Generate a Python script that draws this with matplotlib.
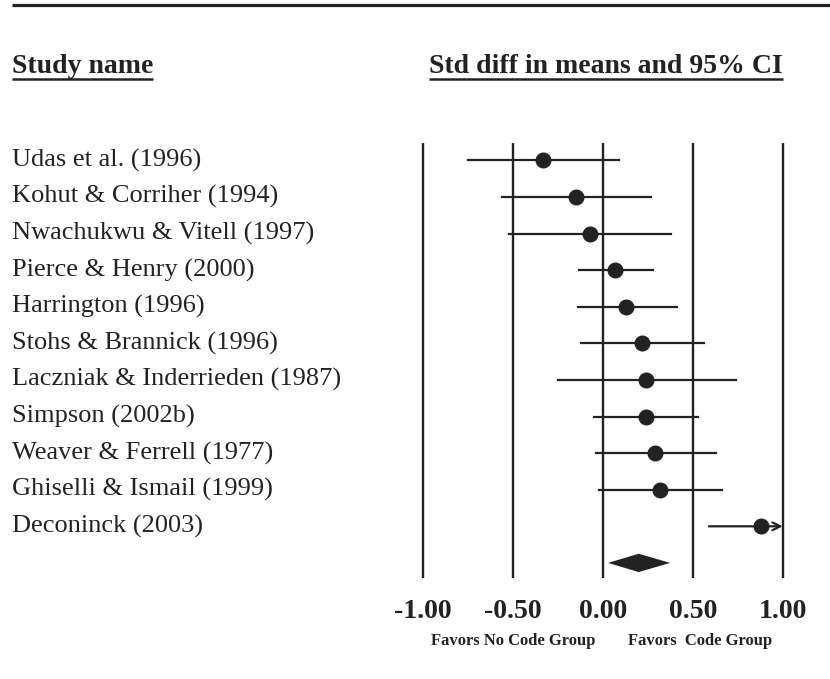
import numpy as np
import matplotlib
matplotlib.use('Agg')
import matplotlib.pyplot as plt

# study-level effects (std diff in means, 95% CI)
studies = ['Udas et al. (1996)', 'Kohut & Corriher (1994)', 'Nwachukwu & Vitell (1997)',
           'Pierce & Henry (2000)', 'Harrington (1996)', 'Stohs & Brannick (1996)',
           'Laczniak & Inderrieden (1987)', 'Simpson (2002b)', 'Weaver & Ferrell (1977)',
           'Ghiselli & Ismail (1999)', 'Deconinck (2003)']
effect = [-0.33, -0.15, -0.07, 0.07, 0.13, 0.22, 0.24, 0.24, 0.29, 0.32, 0.88]
lower = [-0.75, -0.56, -0.52, -0.13, -0.14, -0.12, -0.25, -0.05, -0.04, -0.02, 0.59]
upper = [0.09, 0.27, 0.38, 0.28, 0.41, 0.56, 0.74, 0.53, 0.63, 0.66, 1.20]

# summary diamond
summary = [0.03, 0.20, 0.375]  # lower, estimate, upper

ticks = [-1.0, -0.5, 0.0, 0.5, 1.0]
tick_labels = ['-1.00', '-0.50', '0.00', '0.50', '1.00']

plt.rcParams['font.family'] = ['Liberation Serif', 'DejaVu Serif']
ink = '#222222'

W, H, dpi = 830, 679, 100
fig = plt.figure(figsize=(W / dpi, H / dpi), dpi=dpi)
ax = fig.add_axes([0, 0, 1, 1])

# pixel -> data mapping: x=0 at 602.7px, 180px per unit; rows 36.6px apart, first at 160.3px
x0, xs = 602.7, 180.0
y0, ys = 160.3, 36.6
ax.set_xlim(-x0 / xs, (W - x0) / xs)
ax.set_ylim((H - y0) / ys, -y0 / ys)
ax.axis('off')

n = len(studies)
rows = np.arange(n)
px = lambda p: (p - y0) / ys  # pixel row -> data y

# reference lines
for t in ticks:
    ax.plot([t, t], [-0.47, n + 0.4], color=ink, lw=1.7, solid_capstyle='butt')

# confidence intervals and points
for i in rows:
    if upper[i] > 1.0:
        ax.annotate('', xy=(1.0, i), xytext=(lower[i], i),
                    arrowprops=dict(arrowstyle='->', color=ink, lw=1.6,
                                    mutation_scale=14, shrinkA=0, shrinkB=0))
    else:
        ax.plot([lower[i], upper[i]], [i, i], color=ink, lw=1.6)
    ax.plot(effect[i], i, 'o', color=ink, markersize=10.5)

# summary diamond
lo, est, hi = summary
h = 0.25
ax.fill([lo, est, hi, est], [n, n - h, n, n + h], color=ink, lw=0)

# study names
for i, name in enumerate(studies):
    ax.text(12 / xs - x0 / xs, i, name, fontsize=19, ha='left', va='center', color=ink)

# x tick labels and favors text
for t, lab in zip(ticks, tick_labels):
    ax.text(t, px(618), lab, fontsize=20, fontweight='bold', ha='center', va='baseline', color=ink)
ax.text(-0.5, px(645), 'Favors No Code Group', fontsize=12, fontweight='bold',
        ha='center', va='baseline', color=ink)
ax.text(0.54, px(645), 'Favors  Code Group', fontsize=12, fontweight='bold',
        ha='center', va='baseline', color=ink)

# headers
h1 = ax.text((12 - x0) / xs, px(73), 'Study name', fontsize=20, fontweight='bold',
             ha='left', va='baseline', color=ink)
h2 = ax.text(0.02, px(73), 'Std diff in means and 95% CI', fontsize=20, fontweight='bold',
             ha='center', va='baseline', color=ink)

# top rule
ax.plot([(12 - x0) / xs, (W - x0) / xs], [px(5), px(5)], color=ink, lw=2.3, solid_capstyle='butt')

# underline the headers
fig.canvas.draw()
inv = ax.transData.inverted()
for t in (h1, h2):
    bb = t.get_window_extent()
    (xa, _), (xb, _) = inv.transform([[bb.x0, 0], [bb.x1, 0]])
    ax.plot([xa, xb], [px(79), px(79)], color=ink, lw=1.8, solid_capstyle='butt')

fig.savefig('out.png', dpi=dpi)
